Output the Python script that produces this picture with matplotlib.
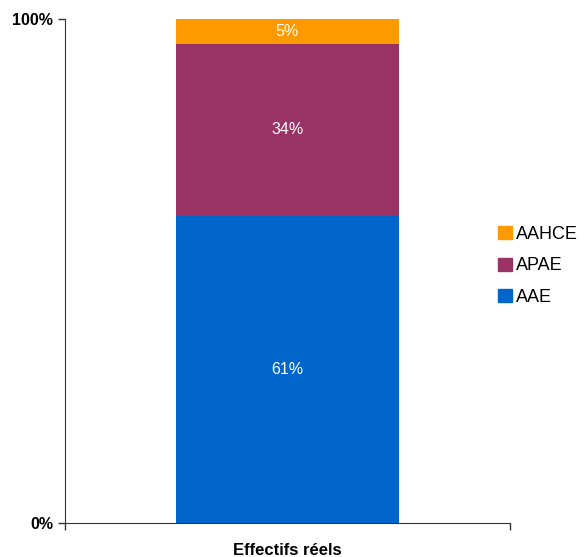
import matplotlib
matplotlib.use("Agg")
import matplotlib.pyplot as plt
from matplotlib.patches import Patch

plt.rcParams['font.family'] = ['Liberation Sans', 'DejaVu Sans']

category = "Effectifs réels"
series = ["AAE", "APAE", "AAHCE"]
values = [61, 34, 5]
colors = ["#0066CC", "#993366", "#FF9900"]
yticks = [0, 100]
yticklabels = ["0%", "100%"]

fig = plt.figure(figsize=(5.85, 5.57), dpi=100)
ax = fig.add_axes([65/585, 1-523/557, (510-65)/585, (523-19)/557])

bottom = 0
for name, v, c in zip(series, values, colors):
    ax.bar(0, v, width=0.5, bottom=bottom, color=c, label=name)
    ax.text(0, bottom + v/2, f"{v}%", ha='center', va='center', color='white', fontsize=11.5)
    bottom += v

ax.set_xlim(-0.5, 0.5)
ax.set_ylim(0, 100)
ax.set_yticks(yticks)
ax.set_yticklabels(yticklabels, fontweight='bold', fontsize=11.5)
ax.set_xticks([-0.5, 0.5])
ax.set_xticklabels(["", ""])
ax.tick_params(axis='both', direction='out', length=5, width=1, color='#333333')
ax.set_xlabel(category, fontweight='bold', fontsize=12, labelpad=6)
for s in ['top', 'right']:
    ax.spines[s].set_visible(False)
for s in ['left', 'bottom']:
    ax.spines[s].set_color('#333333')

handles = [Patch(color=c, label=n) for n, c in zip(series, colors)][::-1]
fig.legend(handles=handles, loc='center left', bbox_to_anchor=(489/585, 1-266/557),
           frameon=False, fontsize=13, handlelength=0.75, handleheight=0.75,
           handletextpad=0.25, labelspacing=0.8, borderpad=0)

fig.savefig("out.png", dpi=100)
